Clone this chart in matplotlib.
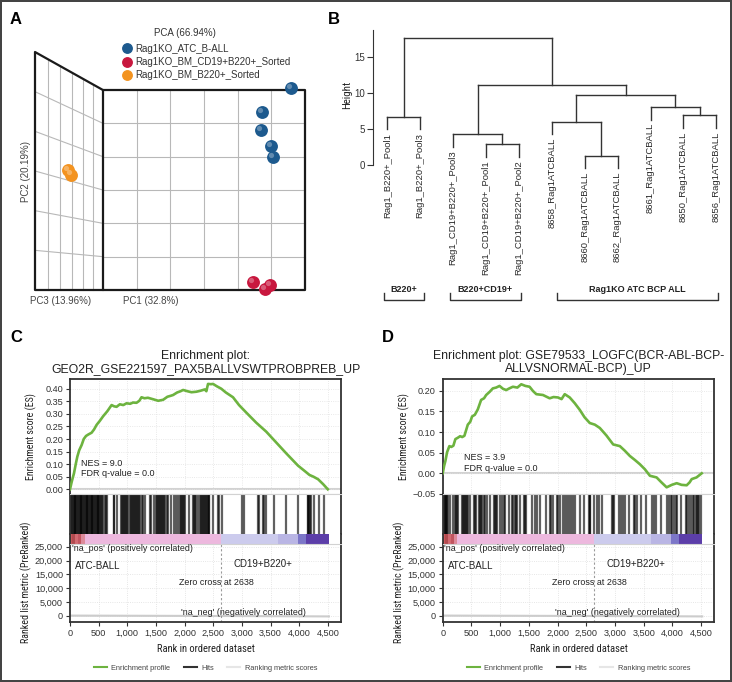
import numpy as np
import matplotlib.pyplot as plt
from matplotlib.lines import Line2D
from matplotlib.ticker import FuncFormatter
from matplotlib.transforms import ScaledTranslation
from matplotlib.font_manager import fontManager, FontProperties

plt.rcParams['font.family'] = ['Liberation Sans', 'DejaVu Sans']

# condensed face for axis titles, if one is installed
_cond = []
for f in fontManager.ttflist:
    narrow = 'Narrow' in f.name or 'Condensed' in f.name or f.stretch in ('condensed', 'semi-condensed')
    if narrow and f.style == 'normal' and f.weight in (400, 'normal', 'regular', 'book'):
        rank = 0 if 'Liberation' in f.name else 1 if 'Roboto' in f.name else 2
        _cond.append((rank, f.fname))
if _cond:
    NARROW = FontProperties(fname=sorted(_cond)[0][1])
    NARROW_SCALE = 1.0
else:
    NARROW = FontProperties(family='Liberation Sans')
    NARROW_SCALE = 0.8

# ---------------- data ----------------
# panel A: PCA scores (PC1, PC2, PC3) per group
pca_groups = ['Rag1KO_ATC_B-ALL', 'Rag1KO_BM_CD19+B220+_Sorted', 'Rag1KO_BM_B220+_Sorted']
pca_colors = ['#1d5a8e', '#c8173e', '#f39320']
pc1 = [[26.2, 17.5, 17.2, 20.2, 20.8], [14.9, 19.9, 18.4], [-29.6, -29.5]]
pc2 = [[20.2, 15.4, 11.8, 8.6, 6.4], [-18.4, -19.0, -19.9], [1.8, 1.1]]
pc3 = [[-14, -14, -14, -14, -14], [-14, -14, -14], [2.2, 1.3]]
pc1_lim, pc2_lim, pc3_lim = (-30, 30), (-20, 20), (-15, 15)

# panel B: hierarchical clustering (R style merge table)
leaves = ['Rag1_B220+_Pool1', 'Rag1_B220+_Pool3', 'Rag1_CD19+B220+_Pool3',
          'Rag1_CD19+B220+_Pool1', 'Rag1_CD19+B220+_Pool2', '8658_Rag1ATCBALL',
          '8660_Rag1ATCBALL', '8662_Rag1ATCBALL', '8661_Rag1ATCBALL',
          '8650_Rag1ATCBALL', '8656_Rag1ATCBALL']
merges = [(-7, -8), (-4, -5), (-3, 2), (-6, 1), (-1, -2), (-10, -11),
          (-9, 6), (4, 7), (3, 8), (5, 9)]
merge_heights = [1.3, 2.9, 4.25, 6.0, 6.7, 6.9, 8.05, 9.7, 11.1, 17.6]
hang = 1.76
groups = ['B220+', 'B220+CD19+', 'Rag1KO ATC BCP ALL']
group_spans = [(0.9, 2.1), (2.9, 5.05), (6.15, 11.05)]

# panels C/D: GSEA
es_c_x = [0, 30, 70, 100, 128, 160, 203, 240, 279, 320, 377, 420, 464, 520, 580, 650,
          726, 770, 813, 870, 930, 987, 1050, 1100, 1161, 1210, 1248, 1300, 1360, 1452,
          1540, 1626, 1700, 1760, 1800, 1870, 1930, 1974, 2050, 2120, 2206, 2280, 2351,
          2380, 2409, 2460, 2497, 2560, 2640, 2720, 2845, 2950, 3077, 3250, 3426, 3600,
          3774, 3980, 4100, 4180, 4250, 4330, 4420, 4500]
es_c_y = [0, 0.03, 0.064, 0.10, 0.13, 0.155, 0.176, 0.20, 0.212, 0.218, 0.225, 0.238,
          0.256, 0.272, 0.291, 0.31, 0.335, 0.33, 0.328, 0.338, 0.335, 0.342, 0.34, 0.345,
          0.344, 0.352, 0.366, 0.362, 0.364, 0.358, 0.352, 0.356, 0.368, 0.372, 0.375,
          0.385, 0.39, 0.395, 0.39, 0.386, 0.388, 0.392, 0.397, 0.39, 0.419, 0.418, 0.419,
          0.41, 0.40, 0.385, 0.366, 0.335, 0.305, 0.265, 0.229, 0.186, 0.143, 0.094,
          0.072, 0.057, 0.05, 0.04, 0.02, 0.0]
es_d_x = [0, 25, 47, 76, 116, 150, 186, 221, 260, 303, 340, 378, 437, 480, 512, 560, 611,
          669, 720, 757, 820, 873, 930, 990, 1050, 1106, 1160, 1222, 1300, 1368, 1440,
          1513, 1570, 1630, 1746, 1863, 1930, 2008, 2070, 2125, 2212, 2300, 2387, 2470,
          2561, 2650, 2736, 2850, 2969, 3085, 3170, 3260, 3350, 3434, 3520, 3609, 3725,
          3810, 3900, 3990, 4075, 4160, 4249, 4300, 4337, 4420, 4511]
es_d_y = [0, 0.018, 0.030, 0.051, 0.066, 0.064, 0.067, 0.083, 0.086, 0.090, 0.088, 0.091,
          0.118, 0.125, 0.138, 0.142, 0.155, 0.178, 0.182, 0.190, 0.198, 0.206, 0.208,
          0.212, 0.205, 0.202, 0.206, 0.210, 0.208, 0.216, 0.212, 0.210, 0.200, 0.192,
          0.190, 0.182, 0.185, 0.184, 0.180, 0.192, 0.184, 0.170, 0.154, 0.136, 0.122,
          0.118, 0.110, 0.092, 0.070, 0.066, 0.055, 0.042, 0.032, 0.022, 0.010, -0.006,
          -0.010, -0.022, -0.034, -0.028, -0.024, -0.028, -0.029, -0.022, -0.014, -0.010, 0.0]
hits_c = [5, 22, 38, 50, 66, 80, 95, 112, 126, 140, 158, 171, 185, 200, 214, 230, 243, 260,
          274, 290, 305, 318, 334, 350, 362, 378, 392, 410, 424, 438, 452, 468, 482, 497,
          512, 526, 540, 556, 570, 605, 628, 650, 760, 775, 824, 895, 910, 928, 945, 968,
          985, 1003, 1020, 1040, 1072, 1090, 1108, 1125, 1142, 1160, 1178, 1195, 1212,
          1230, 1250, 1268, 1312, 1390, 1415, 1463, 1505, 1522, 1540, 1558, 1575, 1592,
          1610, 1628, 1646, 1664, 1685, 1705, 1765, 1823, 1850, 1880, 1928, 1945, 1962,
          1980, 1995, 2010, 2085, 2143, 2160, 2182, 2205, 2230, 2262, 2280, 2298, 2315,
          2332, 2350, 2368, 2386, 2405, 2420, 2433, 2491, 2578, 2608, 2648, 2996, 3043,
          3275, 3304, 3362, 3390, 3420, 3566, 3769, 3972, 4146, 4160, 4175, 4190, 4204,
          4262, 4350, 4425]
hits_d = [5, 20, 35, 50, 65, 80, 95, 130, 175, 215, 232, 250, 268, 331, 348, 365, 382, 400,
          418, 435, 477, 540, 560, 585, 627, 645, 665, 685, 715, 745, 772, 831, 889, 905,
          925, 945, 994, 1034, 1060, 1090, 1146, 1208, 1230, 1255, 1275, 1296, 1354, 1412,
          1435, 1458, 1557, 1616, 1645, 1703, 1796, 1866, 1890, 1924, 1983, 2010, 2041,
          2099, 2125, 2157, 2204, 2230, 2262, 2310, 2397, 2456, 2543, 2560, 2572, 2640,
          2680, 2720, 2770, 2950, 2970, 2991, 3067, 3100, 3140, 3183, 3241, 3329, 3355,
          3387, 3445, 3532, 3649, 3675, 3707, 3794, 3911, 3940, 3970, 4000, 4030, 4060,
          4085, 4143, 4231, 4260, 4290, 4318, 4364, 4385, 4405, 4425, 4450, 4470, 4492]
# ranked list colour strip and metric
bar_edges = [0, 40, 90, 140, 200, 256, 2638, 3630, 3972, 4117, 4520]
bar_colors = ['#c9575a', '#b24a4f', '#d36a72', '#c25560', '#dd8a9a', '#edb8de',
              '#cccbed', '#b9b5e4', '#7c76c8', '#5c3ea9']
metric_x = [0, 2638, 4520]
metric_y = [150, 0, -150]
zero_cross = 2638

# ---------------- figure ----------------
W, H = 732, 682
fig = plt.figure(figsize=(W / 100, H / 100), dpi=100, linewidth=1.5, edgecolor='#444444')


def box(x0, y0, x1, y1):
    return [x0 / W, 1 - y1 / H, (x1 - x0) / W, (y1 - y0) / H]


def fxy(x, y):
    return x / W, 1 - y / H


def narrow(size):
    p = NARROW.copy()
    p.set_size(size * NARROW_SCALE)
    return p


for letter, (lx, ly) in zip('ABCD', [(10, 24), (328, 24), (10, 342), (382, 342)]):
    fig.text(*fxy(lx, ly), letter, fontsize=12, fontweight='bold', va='baseline')

# ---------------- A: PCA ----------------
EYE_X, K = 1.77, 0.16


def project(p1, p2, p3):
    u = (np.asarray(p1, float) - pc1_lim[0]) / (pc1_lim[1] - pc1_lim[0])
    v = (np.asarray(p2, float) - pc2_lim[0]) / (pc2_lim[1] - pc2_lim[0])
    d = (np.asarray(p3, float) - pc3_lim[0]) / (pc3_lim[1] - pc3_lim[0])
    s = 1 / (1 - K * d)
    return EYE_X + (u - EYE_X) * s, v * s


axA = fig.add_axes(box(35, 52, 305, 290))
x_near, y_near = project(pc1_lim[0], pc2_lim[1], pc3_lim[1])
axA.set_xlim(x_near, 1)
axA.set_ylim(0, y_near)
axA.axis('off')
grid_kw = dict(color='#b8b8b8', lw=0.8, clip_on=False, zorder=1)
edge_kw = dict(color='#1a1a1a', lw=1.6, clip_on=False, zorder=2, solid_capstyle='round')
for f in np.linspace(0, 1, 7)[1:-1]:
    axA.plot([f, f], [0, 1], **grid_kw)
    axA.plot([0, 1], [f, f], **grid_kw)
    xd, yd = project(pc1_lim[0], pc2_lim[1], pc3_lim[0] + f * (pc3_lim[1] - pc3_lim[0]))
    axA.plot([xd, xd], [0, yd], **grid_kw)
    xa, ya = project(pc1_lim[0], pc2_lim[0] + f * (pc2_lim[1] - pc2_lim[0]), pc3_lim[0])
    xb, yb = project(pc1_lim[0], pc2_lim[0] + f * (pc2_lim[1] - pc2_lim[0]), pc3_lim[1])
    axA.plot([xa, xb], [ya, yb], **grid_kw)
axA.plot([0, 1, 1, 0, 0], [0, 0, 1, 1, 0], **edge_kw)
axA.plot([0, x_near, x_near, 0], [1, y_near, 0, 0], **edge_kw)

shine = axA.transData + ScaledTranslation(-1.5 / 72, 1.5 / 72, fig.dpi_scale_trans)
for a, b, c, col in zip(pc1, pc2, pc3, pca_colors):
    px, py = project(a, b, c)
    axA.scatter(px, py, s=86, color=col, zorder=5, clip_on=False, lw=0)
    axA.scatter(px, py, s=14, color='white', alpha=0.3, zorder=6, clip_on=False, lw=0,
                transform=shine)

fig.text(*fxy(185, 33), 'PCA (66.94%)', fontsize=7, color='#333333', ha='center', va='center')
handles = [Line2D([], [], marker='o', ls='', color=c, markersize=6.8) for c in pca_colors]
fig.legend(handles, pca_groups, loc='upper left', bbox_to_anchor=fxy(116, 39), frameon=False,
           fontsize=7, handletextpad=0.25, labelspacing=0.32, borderpad=0, handlelength=1.2,
           labelcolor='#333333')
fig.text(*fxy(26, 172), 'PC2 (20.19%)', fontsize=7, color='#444444', rotation=90,
         ha='center', va='center')
fig.text(*fxy(61, 301), 'PC3 (13.96%)', fontsize=7, color='#444444', ha='center', va='center')
fig.text(*fxy(151, 301), 'PC1 (32.8%)', fontsize=7, color='#444444', ha='center', va='center')

# ---------------- B: dendrogram ----------------
axB = fig.add_axes(box(373, 28.2, 729, 172.2))
axB.set_xlim(0.565, 0.565 + 356 / 32.9)
axB.set_ylim(-1, 19)
line_kw = dict(color='#333333', lw=1.0, clip_on=False, solid_capstyle='projecting')
node_x = []
for (a, b), h in zip(merges, merge_heights):
    xs = []
    for child in (a, b):
        if child < 0:
            cx, cy = -child, h - hang
            axB.text(cx, cy - 0.45, leaves[-child - 1], rotation=90, ha='center', va='top',
                     fontsize=6.8, color='#2a2a2a', clip_on=False)
        else:
            cx, cy = node_x[child - 1], merge_heights[child - 1]
        axB.plot([cx, cx], [cy, h], **line_kw)
        xs.append(cx)
    axB.plot(xs, [h, h], **line_kw)
    node_x.append(np.mean(xs))
for name, (g0, g1) in zip(groups, group_spans):
    axB.plot([g0, g0, g1, g1], [-17.8, -18.75, -18.75, -17.8], **line_kw)
    axB.text((g0 + g1) / 2, -17.3, name, ha='center', va='center', fontsize=6.5,
             fontweight='bold', color='#222222', clip_on=False)
for s in ['top', 'right', 'bottom']:
    axB.spines[s].set_visible(False)
axB.spines['left'].set_bounds(0, 18.8)
axB.spines['left'].set_color('#333333')
axB.set_xticks([])
axB.set_yticks([0, 5, 10, 15])
axB.tick_params(axis='y', length=4, width=0.8, labelsize=7, colors='#333333', pad=2)
fig.text(*fxy(347, 95), 'Height', rotation=90, ha='center', va='center',
         fontproperties=narrow(7.8), color='#222222')

# ---------------- C/D: GSEA ----------------
GREEN = '#6db33f'
DARK = '#333333'
LIGHT = '#d2d2d2'
XMAX = 4730
comma = FuncFormatter(lambda v, p: f'{v:,.0f}')
es_fmt = FuncFormatter(lambda v, p: f'{v:.2f}'.replace('-', '\u2212'))


def gsea_panel(x0, x1, title, es_x, es_y, es_lim, es_ticks, hits, nes_pos, nes):
    ax1 = fig.add_axes(box(x0, 379, x1, 494))
    ax2 = fig.add_axes(box(x0, 494, x1, 534))
    ax3 = fig.add_axes(box(x0, 534, x1, 543.5))
    ax4 = fig.add_axes(box(x0, 543.5, x1, 622))
    for ax in (ax1, ax2, ax3, ax4):
        ax.set_xlim(0, XMAX)
        for s in ax.spines.values():
            s.set_color(DARK)
            s.set_linewidth(1.3)
    # enrichment score
    ax1.plot(es_x, es_y, color=GREEN, lw=1.9, zorder=3)
    ax1.axhline(0, color=LIGHT, lw=1.5, zorder=1)
    ax1.set_ylim(*es_lim)
    ax1.set_yticks(es_ticks)
    ax1.yaxis.set_major_formatter(es_fmt)
    ax1.set_xticks(range(0, 5000, 500))
    ax1.grid(True, ls=':', color='#e2e2e2', lw=0.6)
    ax1.tick_params(axis='x', length=0, labelbottom=False)
    ax1.tick_params(axis='y', length=3, width=0.8, labelsize=6.6, colors=DARK, pad=2)
    ax1.spines['bottom'].set_color(LIGHT)
    ax1.spines['bottom'].set_linewidth(0.8)
    ax1.set_title(title, fontsize=8.8, pad=5, linespacing=1.15, color='#222222')
    ax1.set_ylabel('Enrichment score (ES)', fontproperties=narrow(7.2), color='#222222')
    ax1.yaxis.set_label_coords(-0.12, 0.5)
    ax1.text(nes_pos[0], nes_pos[1], nes[0], fontsize=6.5, va='center', color='#222222')
    ax1.text(nes_pos[0], nes_pos[2], nes[1], fontsize=6.5, va='center', color='#222222')
    # hits
    ax2.vlines(hits, 0, 1, color='black', alpha=0.62, lw=1.6)
    ax2.set_ylim(0, 1)
    ax2.set_xticks([])
    ax2.set_yticks([])
    ax2.spines['top'].set_color(LIGHT)
    ax2.spines['top'].set_linewidth(0.8)
    ax2.spines['bottom'].set_visible(False)
    # ranked list colour strip
    ax3.bar(bar_edges[:-1], 1, width=np.diff(bar_edges), align='edge', color=bar_colors, lw=0)
    ax3.set_ylim(0, 1)
    ax3.set_xticks([])
    ax3.set_yticks([])
    ax3.spines['top'].set_visible(False)
    ax3.spines['bottom'].set_visible(False)
    # ranked metric
    ax4.fill_between(metric_x, metric_y, color='#dcdcdc', lw=0)
    ax4.plot(metric_x, metric_y, color='#cccccc', lw=1.5)
    ax4.axvline(zero_cross, color='#9a9a9a', lw=0.8, ls=(0, (2, 2)))
    ax4.set_ylim(-2165, 26155)
    ax4.set_yticks(range(0, 25001, 5000))
    ax4.set_xticks(range(0, 4501, 500))
    ax4.xaxis.set_major_formatter(comma)
    ax4.yaxis.set_major_formatter(comma)
    ax4.grid(True, ls=':', color='#dedede', lw=0.6)
    ax4.tick_params(length=3, width=0.8, labelsize=6.6, colors=DARK, pad=2)
    ax4.spines['top'].set_color(LIGHT)
    ax4.spines['top'].set_linewidth(0.8)
    ax4.set_xlabel('Rank in ordered dataset', fontproperties=narrow(7.6), color='#222222',
                   labelpad=4)
    ax4.set_ylabel('Ranked list metric (PreRanked)', fontproperties=narrow(7.2),
                   color='#222222')
    ax4.yaxis.set_label_coords(-0.14, 0.5)
    tk = dict(fontsize=6.4, color='#222222', va='center')
    ax4.text(30, 24200, "'na_pos' (positively correlated)", **tk)
    ax4.text(87, 18150, 'ATC-BALL', fontsize=7, color='#222222', va='center')
    ax4.text(3370, 18760, 'CD19+B220+', fontsize=7, color='#222222', va='center', ha='center')
    ax4.text(2555, 12015, 'Zero cross at 2638', ha='center', **tk)
    ax4.text(3035, 1190, "'na_neg' (negatively correlated)", ha='center', **tk)
    # legend
    lh = [Line2D([], [], color=GREEN, lw=1.5), Line2D([], [], color=DARK, lw=1.5),
          Line2D([], [], color='#e6e6e6', lw=1.5)]
    fig.legend(lh, ['Enrichment profile', 'Hits', 'Ranking metric scores'], loc='center',
               bbox_to_anchor=fxy((x0 + x1) / 2, 668), ncol=3, frameon=False, fontsize=5.3,
               handlelength=1.8, columnspacing=1.8, handletextpad=0.6, labelcolor='#444444')


gsea_panel(70, 341, 'Enrichment plot:\nGEO2R_GSE221597_PAX5BALLVSWTPROBPREB_UP',
           es_c_x, es_c_y, (-0.0187, 0.4386), np.arange(0, 0.41, 0.05), hits_c,
           (192, 0.103, 0.061), ('NES = 9.0', 'FDR q-value = 0.0'))
gsea_panel(442.7, 714.3, 'Enrichment plot: GSE79533_LOGFC(BCR-ABL-BCP-\nALLVSNORMAL-BCP)_UP',
           es_d_x, es_d_y, (-0.0502, 0.2288), np.arange(-0.05, 0.21, 0.05), hits_d,
           (378, 0.038, 0.012), ('NES = 3.9', 'FDR q-value = 0.0'))

fig.savefig('out.png', dpi=100)
